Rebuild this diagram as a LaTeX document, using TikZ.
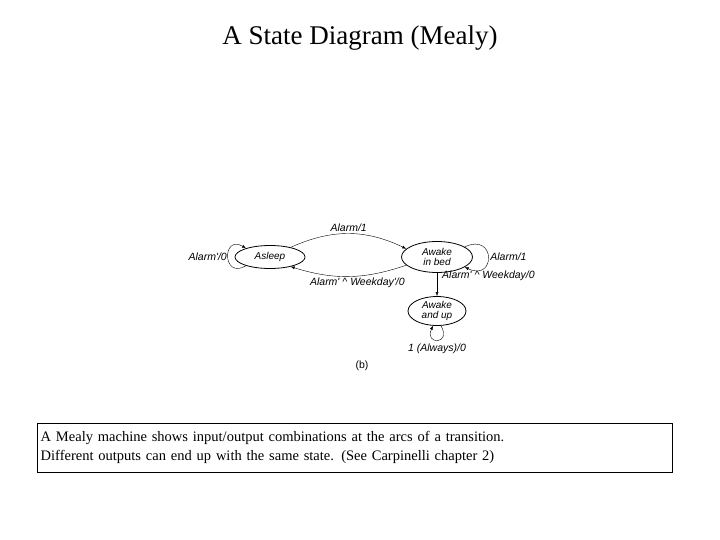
\documentclass[tikz,border=0pt]{standalone}
\usepackage{fontspec}
\setmainfont{Liberation Serif}
\newfontfamily\lab{Liberation Sans}
\usetikzlibrary{shapes.geometric,arrows.meta}
\begin{document}
\begin{tikzpicture}[x=1pt,y=-1pt,
  st/.style={ellipse,draw,thick,inner sep=0pt,font=\lab\itshape\fontsize{10}{10}\selectfont,align=center},
  lb/.style={font=\lab\itshape\fontsize{10.5}{11}\selectfont,inner sep=1pt},
  ar/.style={draw,-{Latex[length=4pt,width=3pt]}}]
\useasboundingbox (0,0) rectangle (720,540);
\node (title) at (360,38) {\fontsize{27}{30}\selectfont A State Diagram (Mealy)};
\node[st,minimum width=70,minimum height=23] (asleep) at (270,257) {Asleep};
\node[st,minimum width=71,minimum height=31] (bed) at (437,257) {Awake\\in bed};
\node[st,minimum width=58,minimum height=29] (up) at (437,311) {Awake\\and up};
\draw[ar] (asleep.25) to[bend left=25] node[lb,above=1pt] {Alarm/1} (bed.165);
\draw[ar] (bed.195) to[bend left=18] node[lb,below=1pt,pos=0.42] {Alarm' \^{} Weekday'/0} (asleep.-25);
\draw[ar] (bed.south) -- (up.north);
\node[lb,anchor=west] (wd) at (441,276) {Alarm' \^{} Weekday/0};
\draw[ar] (asleep.-160) .. controls (222,280) and (222,234) .. node[lb,left] {Alarm'/0} (asleep.160);
\draw[ar] (bed.20) .. controls (496,232) and (496,282) .. node[lb,right=1pt] {Alarm/1} (bed.-20);
\draw[ar] (up.-75) .. controls (452,345) and (424,345) .. (up.-105);
\node[lb] (al) at (437,349) {1 (Always)/0};
\node[font=\lab\fontsize{10.5}{11}\selectfont] (b) at (362,366) {(b)};
\node[draw,thin,minimum width=635,minimum height=49,anchor=north west,text width=628,align=left,inner sep=3pt,font=\fontsize{14.5}{19}\selectfont] (cap) at (37,423) {A Mealy machine shows input/output combinations at the arcs of a transition.\\ Different outputs can end up with the same state. (See Carpinelli chapter 2)};
\end{tikzpicture}
\end{document}
